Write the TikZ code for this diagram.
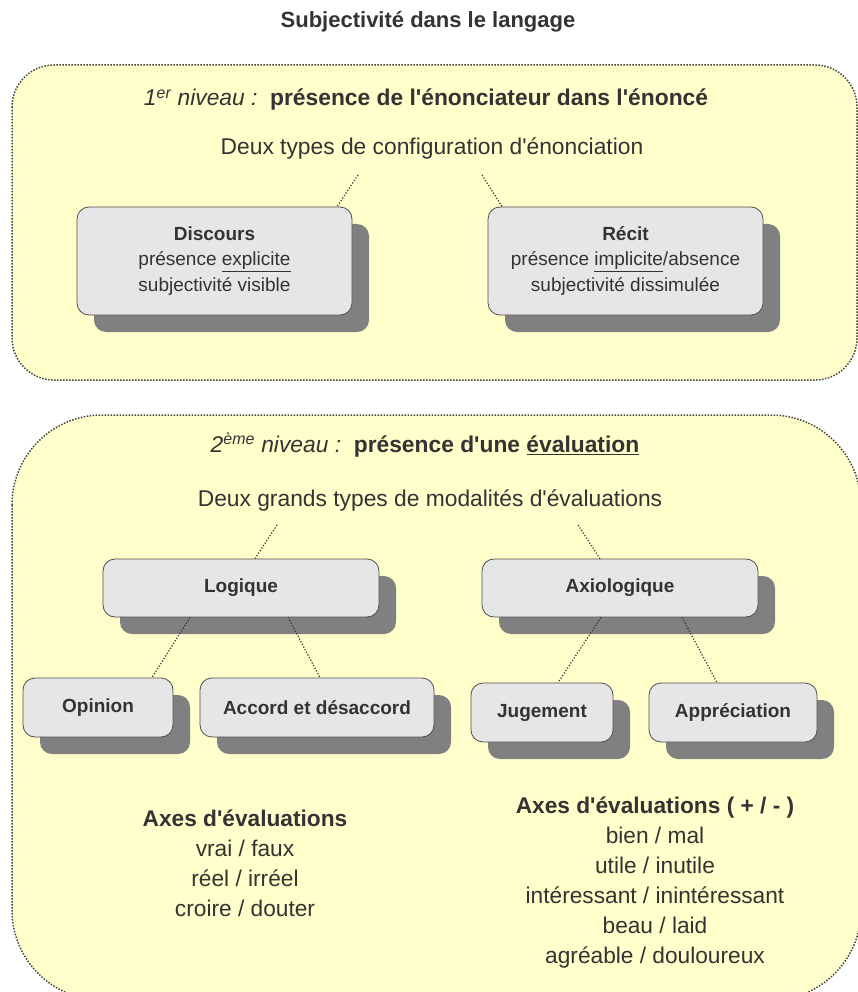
\documentclass[tikz,border=0pt]{standalone}
\usepackage{fontspec}
\newfontfamily\diafont{Liberation Sans}
\usetikzlibrary{shadows, positioning}
\definecolor{panelfill}{HTML}{FFFFCC}
\definecolor{paneldots}{HTML}{444444}
\definecolor{boxfill}{HTML}{E6E6E6}
\definecolor{boxline}{HTML}{4D4D4D}
\definecolor{shadowgray}{HTML}{808080}
\definecolor{ink}{HTML}{333333}

\begin{document}
\begin{tikzpicture}[
  x=1pt, y=-1pt,
  panel/.style={draw=paneldots, fill=panelfill, line width=1.5pt, dash pattern=on 1.5pt off 1.5pt},
  box/.style={rectangle, rounded corners=12pt, draw=boxline, fill=boxfill, line width=0.8pt, text=ink, align=center, inner sep=0pt,
    drop shadow={shadow xshift=17pt, shadow yshift=-17pt, fill=shadowgray, opacity=1}},
  bigbox/.style={box, minimum width=275pt, minimum height=108pt, font=\diafont\fontsize{19}{25.5}\selectfont},
  midbox/.style={box, minimum width=276pt, minimum height=58pt, font=\diafont\fontsize{19}{22}\selectfont\bfseries},
  smallbox/.style={box, minimum height=59pt, font=\diafont\fontsize{19}{22}\selectfont\bfseries},
  title/.style={text=ink, font=\diafont\fontsize{22}{26}\selectfont\bfseries},
  heading/.style={text=ink, font=\diafont\fontsize{22.8}{26}\selectfont},
  axes/.style={text=ink, align=center, font=\diafont\fontsize{22.7}{30}\selectfont},
  link/.style={draw=ink, line width=1.2pt, dash pattern=on 1.2pt off 1.8pt}
]
\useasboundingbox (0,0) rectangle (857,992);

% Panels
\path[panel, rounded corners=42pt] (12,65) rectangle (857,380);
\path[panel, rounded corners=90pt] (12,415) rectangle (861,1000);

% Nodes
\node[title] (title) at (428,22) {Subjectivité dans le langage};

\node[heading] (niv1) at (426,100) {\textit{1\textsuperscript{er} niveau :}\ \ \textbf{présence de l'énonciateur dans l'énoncé}};
\node[heading] (config) at (432,148) {Deux types de configuration d'énonciation};
\node[bigbox] (discours) at (214.5,261) {\textbf{Discours}\\ présence \underline{explicite}\\ subjectivité visible};
\node[bigbox] (recit) at (625.5,261) {\textbf{Récit}\\ présence \underline{implicite}/absence\\ subjectivité dissimulée};

\node[heading] (niv2) at (425,445) {\textit{2\textsuperscript{ème} niveau :}\ \ \textbf{présence d'une \underline{évaluation}}};
\node[heading] (modal) at (430,500) {Deux grands types de modalités d'évaluations};
\node[midbox] (logique) at (241,588) {Logique};
\node[midbox] (axio) at (620,588) {Axiologique};
\node[smallbox, minimum width=150pt] (opinion) at (98,707.5) {Opinion};
\node[smallbox, minimum width=234pt] (accord) at (317,707.5) {Accord et désaccord};
\node[smallbox, minimum width=142pt] (jugement) at (542,712.5) {Jugement};
\node[smallbox, minimum width=168pt] (apprec) at (733,712.5) {Appréciation};

\node[axes] (axeslog) at (245,863) {\textbf{Axes d'évaluations}\\ vrai / faux\\ réel / irréel\\ croire / douter};
\node[axes] (axesaxio) at (655,883) {\textbf{Axes d'évaluations ( + / - )}\\ bien / mal\\ utile / inutile\\ intéressant / inintéressant\\ beau / laid\\ agréable / douloureux};

% Links
\coordinate (c1) at (358,175);
\coordinate (c2) at (482,175);
\coordinate (c3) at (277,525);
\coordinate (c4) at (578,525);
\draw[link] (c1) -- ([xshift=122.5pt]discours.north);
\draw[link] (c2) -- ([xshift=-123.5pt]recit.north);
\draw[link] (c3) -- ([xshift=14pt]logique.north);
\draw[link] (c4) -- ([xshift=-20pt]axio.north);
\draw[link] ([xshift=-51pt]logique.south) -- ([xshift=54pt]opinion.north);
\draw[link] ([xshift=47pt]logique.south) -- ([xshift=3pt]accord.north);
\draw[link] ([xshift=-19pt]axio.south) -- ([xshift=16pt]jugement.north);
\draw[link] ([xshift=62pt]axio.south) -- ([xshift=-16pt]apprec.north);

\end{tikzpicture}
\end{document}
